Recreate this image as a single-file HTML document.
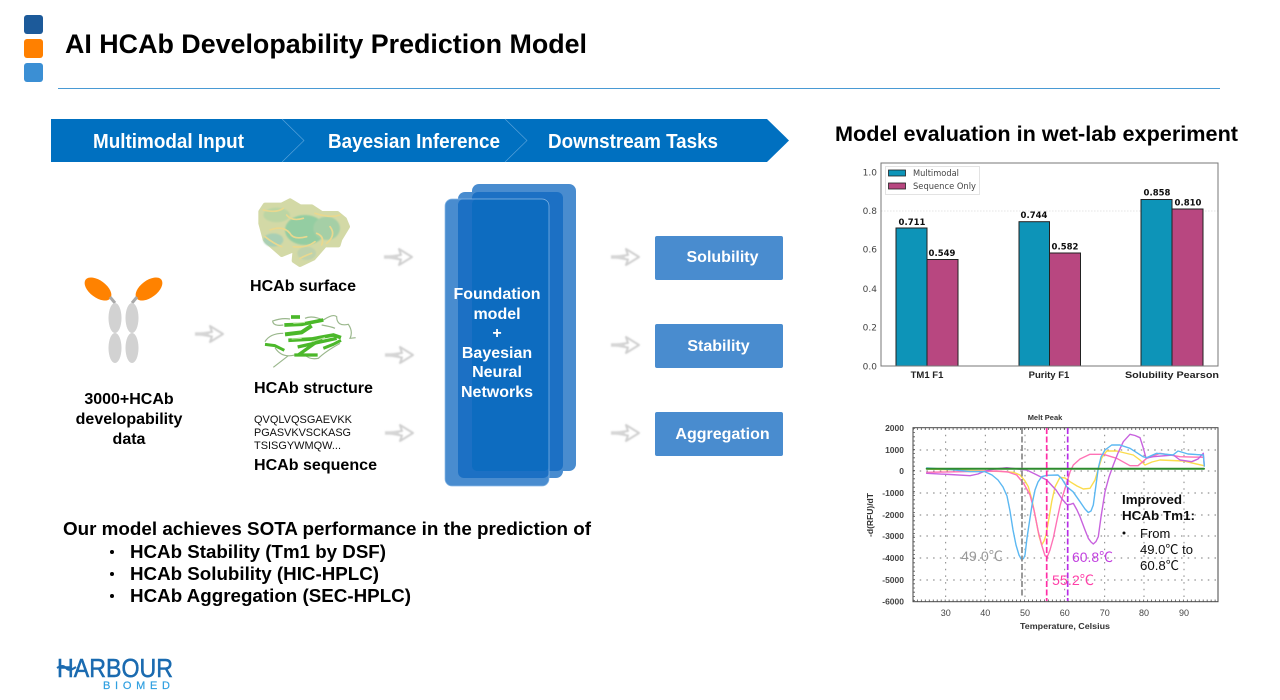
<!DOCTYPE html>
<html>
<head>
<meta charset="utf-8">
<style>
html,body{margin:0;padding:0;background:#fff;width:1280px;height:700px;overflow:hidden}
svg{display:block}
text{font-family:"Liberation Sans","Noto Sans CJK SC",sans-serif}
.b{font-weight:bold;fill:#000}
.d{font-family:"DejaVu Sans",sans-serif}
.t1{font-family:"DejaVu Sans",sans-serif;font-size:9px;fill:#444}
.v{font-family:"DejaVu Sans",sans-serif;font-size:8.5px;font-weight:bold;fill:#111;text-anchor:middle}
.t2{font-size:8.5px;fill:#444;font-weight:bold}
.t3{font-size:9px;fill:#444}
</style>
</head>
<body>
<svg width="1280" height="700" viewBox="0 0 1280 700" xmlns="http://www.w3.org/2000/svg">
<defs>
<filter id="all" filterUnits="userSpaceOnUse" x="0" y="0" width="1280" height="700"><feGaussianBlur stdDeviation="0.32"/></filter>
<filter id="b1" x="-20%" y="-20%" width="140%" height="140%"><feGaussianBlur stdDeviation="0.7"/></filter>
<filter id="b2" x="-20%" y="-20%" width="140%" height="140%"><feGaussianBlur stdDeviation="2"/></filter>
<filter id="b4" x="-20%" y="-20%" width="140%" height="140%"><feGaussianBlur stdDeviation="1"/></filter>
<g id="arr" filter="url(#b1)"><path d="M2 10 L17 8 L15 2 L28 10 L15 18 L17 12.500 Z" fill="#fff" stroke="#cfcfcf" stroke-width="2" stroke-linejoin="round"/><path d="M0 10 H14" stroke="#d5d5d5" stroke-width="3.500"/></g>
</defs>
<rect width="1280" height="700" fill="#fff"/>
<g filter="url(#all)">

<!-- header -->
<rect x="24" y="15" width="19" height="19" rx="3" fill="#1f5a9a"/>
<rect x="24" y="39" width="19" height="19" rx="3" fill="#ff8000"/>
<rect x="24" y="63" width="19" height="19" rx="3" fill="#3b8fd4"/>
<text x="65" y="53" class="b" font-size="26.500" textLength="522" lengthAdjust="spacingAndGlyphs">AI HCAb Developability Prediction Model</text>
<rect x="58" y="88" width="1162" height="1" fill="#4a9ad4"/>

<!-- banner -->
<path d="M51 119 H767 L789 140.500 L767 162 H51 Z" fill="#0070c0"/>
<path d="M282 119 L304 140.500 L282 162 M505 119 L527 140.500 L505 162" fill="none" stroke="#5fa6dc" stroke-width="0.6"/>
<g fill="#fff" font-weight="bold" font-size="20">
<text x="93" y="148" textLength="151" lengthAdjust="spacingAndGlyphs">Multimodal Input</text>
<text x="328" y="148" textLength="172" lengthAdjust="spacingAndGlyphs">Bayesian Inference</text>
<text x="548" y="148" textLength="170" lengthAdjust="spacingAndGlyphs">Downstream Tasks</text>
</g>

<!-- antibody -->
<ellipse cx="98" cy="289" rx="15.500" ry="8.500" transform="rotate(37 98 289)" fill="#ff8205"/>
<ellipse cx="149" cy="289" rx="15.500" ry="8.500" transform="rotate(-37 149 289)" fill="#ff8205"/>
<path d="M110 297 L115 303 M137 297 L132 303" stroke="#a9a9a9" stroke-width="3"/>
<g fill="#d2d2d2">
<ellipse cx="115" cy="318" rx="6.500" ry="15"/><ellipse cx="115" cy="348" rx="6.500" ry="15"/>
<ellipse cx="132" cy="318" rx="6.500" ry="15"/><ellipse cx="132" cy="348" rx="6.500" ry="15"/>
</g>
<g font-size="16" text-anchor="middle">
<text x="129" y="404" class="b">3000+HCAb</text>
<text x="129" y="424" class="b">developability</text>
<text x="129" y="444" class="b">data</text>
</g>

<!-- surface blob -->
<g transform="translate(250,190) scale(0.3333)">
<path filter="url(#b4)" d="M32 65 L45 45 L95 45 L120 32 L150 50 L185 50 L215 70 L262 70 L284 88 L293 110 L270 148 L265 165 L225 165 L190 205 L150 224 L132 212 L135 178 L95 194 L62 165 L45 148 L32 100 Z" fill="#d3d9a6" stroke="#d3d9a6" stroke-width="14" stroke-linejoin="round"/>
<g filter="url(#b2)">
<ellipse cx="165" cy="120" rx="60" ry="45" fill="#94cda2"/>
<ellipse cx="230" cy="115" rx="40" ry="35" fill="#a5cfa6"/>
<ellipse cx="70" cy="150" rx="30" ry="20" fill="#a9cfb4"/>
<ellipse cx="80" cy="75" rx="40" ry="22" fill="#bcd5a4"/>
<ellipse cx="170" cy="190" rx="28" ry="20" fill="#bfd2ac"/>
</g>
<g filter="url(#b4)" fill="none" stroke="#e9d88f" stroke-width="5" stroke-linecap="round">
<path d="M40 60 Q80 70 100 55 M60 120 Q100 105 120 130 Q130 150 170 140 M110 75 Q125 95 160 85 M195 70 Q240 85 270 75 M240 110 Q260 135 230 160 M130 170 Q170 175 195 155 M45 140 Q70 160 95 170 M200 130 Q225 140 215 165 M150 205 Q170 195 185 190"/>
</g>
</g>
<text x="250" y="291" class="b" font-size="16" textLength="106" lengthAdjust="spacingAndGlyphs">HCAb surface</text>

<!-- structure ribbon -->
<g transform="translate(255,305) scale(0.3333)">
<path d="M85 60 Q55 65 53 48 Q80 38 105 42 M85 85 Q45 85 30 110 M60 128 Q80 160 120 150 M55 187 L100 152 M205 45 Q235 25 245 35 Q245 65 280 58 Q295 80 285 100 L302 98 M255 115 Q210 140 190 160 Q165 165 150 150 M200 60 Q230 65 240 70 M150 40 Q170 30 205 45" fill="none" stroke="#9ab78c" stroke-width="3.500"/>
<g fill="none" stroke="#4cb82a" stroke-linejoin="round">
<path d="M108 36 L135 36" stroke-width="11"/>
<path d="M88 60 L140 58 L205 45" stroke-width="11"/>
<path d="M90 88 L140 82 L170 62" stroke-width="12"/>
<path d="M100 106 L170 102 L235 90 L258 98" stroke-width="11"/>
<path d="M128 126 L190 112 L245 100" stroke-width="10"/>
<path d="M118 150 L188 150" stroke-width="10"/>
<path d="M130 150 L165 125 L200 100" stroke-width="10"/>
<path d="M205 130 L235 118 L258 106" stroke-width="9"/>
<path d="M30 118 L60 122 L88 136" stroke-width="9"/>
</g>
<path d="M115 55 L150 52 M110 102 L140 100 M170 110 L210 98" stroke="#b9e6a0" stroke-width="3" fill="none"/>
</g>
<text x="254" y="393" class="b" font-size="16" textLength="119" lengthAdjust="spacingAndGlyphs">HCAb structure</text>

<!-- sequence -->
<g font-size="11" fill="#111">
<text x="254" y="423" textLength="98" lengthAdjust="spacingAndGlyphs">QVQLVQSGAEVKK</text>
<text x="254" y="436" textLength="97" lengthAdjust="spacingAndGlyphs">PGASVKVSCKASG</text>
<text x="254" y="449" textLength="87" lengthAdjust="spacingAndGlyphs">TSISGYWMQW...</text>
</g>
<text x="254" y="470" class="b" font-size="16" textLength="123" lengthAdjust="spacingAndGlyphs">HCAb sequence</text>

<!-- arrows -->
<use href="#arr" x="195" y="324"/>
<use href="#arr" x="384" y="247"/>
<use href="#arr" x="385" y="345"/>
<use href="#arr" x="385" y="423"/>
<use href="#arr" x="611" y="247"/>
<use href="#arr" x="611" y="335"/>
<use href="#arr" x="611" y="423"/>

<!-- stacked foundation cards -->
<g fill="#4a8ccf">
<rect x="472" y="184" width="104" height="287" rx="7"/>
<rect x="458" y="192" width="105" height="286" rx="7"/>
<rect x="445" y="199" width="104" height="287" rx="7"/>
</g>
<g fill="#1c70c4">
<rect x="472" y="192" width="91" height="279" rx="6"/>
<rect x="458" y="199" width="91" height="279" rx="6"/>
</g>
<rect x="472" y="199" width="77" height="272" rx="5" fill="#0c6cc0"/>
<rect x="445" y="199" width="104" height="287" rx="7" fill="none" stroke="#8ab9e6" stroke-width="0.7"/>
<g fill="#fff" font-weight="bold" font-size="16" text-anchor="middle">
<text x="497" y="299">Foundation</text>
<text x="497" y="319">model</text>
<text x="497" y="338">+</text>
<text x="497" y="358">Bayesian</text>
<text x="497" y="377">Neural</text>
<text x="497" y="397">Networks</text>
</g>

<!-- output boxes -->
<g fill="#4a8ccf">
<rect x="655" y="236" width="128" height="44" rx="2"/>
<rect x="655" y="324" width="128" height="44" rx="2"/>
<rect x="655" y="412" width="128" height="44" rx="2"/>
</g>
<g fill="#fff" font-weight="bold" font-size="16" text-anchor="middle">
<text x="722.500" y="262">Solubility</text>
<text x="718.500" y="351">Stability</text>
<text x="722.500" y="439">Aggregation</text>
</g>

<!-- bottom text -->
<text x="63" y="535" class="b" font-size="18.500" textLength="528" lengthAdjust="spacingAndGlyphs">Our model achieves SOTA performance in the prediction of</text>
<g fill="#000"><circle cx="112" cy="552" r="2"/><circle cx="112" cy="574" r="2"/><circle cx="112" cy="596" r="2"/></g>
<text x="130" y="558" class="b" font-size="18.500" textLength="256" lengthAdjust="spacingAndGlyphs">HCAb Stability (Tm1 by DSF)</text>
<text x="130" y="580" class="b" font-size="18.500" textLength="249" lengthAdjust="spacingAndGlyphs">HCAb Solubility (HIC-HPLC)</text>
<text x="130" y="602" class="b" font-size="18.500" textLength="281" lengthAdjust="spacingAndGlyphs">HCAb Aggregation (SEC-HPLC)</text>

<!-- logo -->
<text x="57" y="677" font-size="26" fill="#1a6bb0" stroke="#1a6bb0" stroke-width="0.5" textLength="116" lengthAdjust="spacingAndGlyphs">HARBOUR</text>
<path d="M57 668 Q63 664 66 668 T76 667" fill="none" stroke="#1a6bb0" stroke-width="2"/>
<text x="103" y="689" font-size="11" fill="#2f9fe0" stroke="#2f9fe0" stroke-width="0.2" textLength="67" lengthAdjust="spacing">BIOMED</text>

<!-- right title -->
<text x="835" y="141" class="b" font-size="21.500" textLength="403" lengthAdjust="spacingAndGlyphs">Model evaluation in wet-lab experiment</text>

<!-- bar chart -->
<g>
<line x1="881" y1="211" x2="1218" y2="211" stroke="#ddd" stroke-width="0.7" stroke-dasharray="1.500 1.500"/>
<g stroke="#222" stroke-width="1">
<rect x="896" y="228" width="31" height="138" fill="#0f94b8"/>
<rect x="927" y="259.500" width="31" height="106.500" fill="#b84780"/>
<rect x="1019" y="221.700" width="30.500" height="144.300" fill="#0f94b8"/>
<rect x="1049.500" y="253" width="31" height="113" fill="#b84780"/>
<rect x="1141" y="199.500" width="31" height="166.500" fill="#0f94b8"/>
<rect x="1172" y="209" width="31" height="157" fill="#b84780"/>
</g>
<rect x="881" y="163" width="337" height="203" fill="none" stroke="#777" stroke-width="1"/>
<g text-anchor="end">
<text x="877" y="175.500" class="t1">1.0</text>
<text x="877" y="214" class="t1">0.8</text>
<text x="877" y="252.500" class="t1">0.6</text>
<text x="877" y="292" class="t1">0.4</text>
<text x="877" y="330.500" class="t1">0.2</text>
<text x="877" y="369.500" class="t1">0.0</text>
</g>
<text x="912" y="225" class="v">0.711</text>
<text x="942" y="256" class="v">0.549</text>
<text x="1034" y="218" class="v">0.744</text>
<text x="1065" y="249.500" class="v">0.582</text>
<text x="1157" y="195.500" class="v">0.858</text>
<text x="1188" y="205.500" class="v">0.810</text>
<g class="d" font-size="9.500" font-weight="bold" fill="#222" text-anchor="middle">
<text x="927" y="378">TM1 F1</text>
<text x="1049" y="378">Purity F1</text>
<text x="1172" y="378" textLength="94" lengthAdjust="spacingAndGlyphs">Solubility Pearson</text>
</g>
<rect x="885.500" y="166.500" width="94" height="28" fill="#fff" stroke="#ddd" stroke-width="0.8"/>
<rect x="888.500" y="170" width="17" height="6" fill="#0f94b8" stroke="#222" stroke-width="0.8"/>
<rect x="888.500" y="183" width="17" height="6" fill="#b84780" stroke="#222" stroke-width="0.8"/>
<text x="913" y="176" class="t1" textLength="46" lengthAdjust="spacingAndGlyphs">Multimodal</text>
<text x="913" y="189" class="t1" textLength="63" lengthAdjust="spacingAndGlyphs">Sequence Only</text>
</g>

<!-- melt peak chart -->
<g>
<text x="1045" y="420" text-anchor="middle" font-size="7.500" font-weight="bold" fill="#333">Melt Peak</text>
<g stroke="#777" stroke-width="0.9" stroke-dasharray="1.500 5.200">
<path d="M913 450H1218M913 471H1218M913 493H1218M913 515H1218M913 536H1218M913 558H1218M913 580H1218"/>
<path d="M945.700 428V602M985.300 428V602M1025 428V602M1064.700 428V602M1104.700 428V602M1144 428V602M1184 428V602"/>
</g>
<rect x="913" y="427.700" width="305" height="174" fill="none" stroke="#444" stroke-width="1"/>
<path d="M913 429H1218M913 600.500H1218" stroke="#555" stroke-width="2" stroke-dasharray="0.800 3.170" fill="none"/>
<path d="M914 428V602" stroke="#555" stroke-width="2" stroke-dasharray="0.800 3.400" fill="none"/>
<g text-anchor="end">
<text x="904" y="431" class="t2">2000</text>
<text x="904" y="453" class="t2">1000</text>
<text x="904" y="474" class="t2">0</text>
<text x="904" y="496" class="t2">-1000</text>
<text x="904" y="518" class="t2">-2000</text>
<text x="904" y="539" class="t2">-3000</text>
<text x="904" y="561" class="t2">-4000</text>
<text x="904" y="583" class="t2">-5000</text>
<text x="904" y="604.500" class="t2">-6000</text>
</g>
<g text-anchor="middle">
<text x="945.700" y="616" class="t3">30</text>
<text x="985.300" y="616" class="t3">40</text>
<text x="1025" y="616" class="t3">50</text>
<text x="1064.700" y="616" class="t3">60</text>
<text x="1104.700" y="616" class="t3">70</text>
<text x="1144" y="616" class="t3">80</text>
<text x="1184" y="616" class="t3">90</text>
</g>
<text x="1065" y="629" text-anchor="middle" font-size="8.500" font-weight="bold" fill="#333" textLength="90" lengthAdjust="spacingAndGlyphs">Temperature, Celsius</text>
<text transform="translate(873,515) rotate(-90)" text-anchor="middle" font-size="8.500" font-weight="bold" fill="#333">-d(RFU)/dT</text>

<g fill="none" stroke-linejoin="round" stroke-linecap="round" stroke-width="1.400">
<polyline stroke="#fbdc4e" points="926.700,469 986.700,471 1006.700,471.700 1014,472.500 1020,475 1025,481 1028.300,486.700 1032,500 1035,515 1039,536 1041.700,545 1044,541 1046,535 1049,518 1051.700,501.700 1055,487 1060,477.300 1065,478 1070,481.700 1077,486 1083.300,489 1090,488.300 1095,480 1098,470 1101.700,458 1106.700,451 1116.700,451 1133.300,455 1140,460 1145,465 1152,462 1160,460 1183.300,461 1204,465.700"/>
<polyline stroke="#ff72b6" points="926.700,472.300 996.700,471 1008,472 1016.700,475 1024,484 1030,495 1034,510 1038.300,531.700 1042,546 1045,555.700 1047.300,556.700 1050,550 1053.300,538 1057,520 1060,506 1063,495 1066.700,483 1070,472 1073.300,465 1080,459 1090,454.300 1103.300,454.300 1116.700,458.300 1130,465.700 1138,465.700 1146.700,458.300 1160,453.300 1180,456.700 1203.300,457.300"/>
<polyline stroke="#c862de" points="926.700,473.300 950,474.500 970,475.700 978,474 985,471 995,469 1006.700,467.700 1026.700,470 1037,475 1046.700,480 1056,490 1062,499 1066.700,504.300 1070,504.500 1073.300,503.300 1077,510 1080,516.700 1085,530 1088.300,538.300 1091,542 1093.300,544 1096,541.500 1098.300,536.700 1101,517 1105,491.700 1109,477 1113.300,465 1118,453 1123.300,441.700 1130,434.300 1135,435.500 1140,437.700 1143,447 1146,458 1153.300,456.700 1173.300,455 1180,460 1191.700,461.700 1198,459 1203.300,453.300 1204.300,466"/>
<polyline stroke="#5cb8f2" points="926.700,468 950,469.500 970,471.500 985,471.700 992,475 998,480 1003,487 1007,496 1010,511 1013,530 1016,545 1019,555 1021.500,559.500 1023.500,558.500 1025,555 1027,538 1030,518 1032.500,502 1035,490 1038,482 1041.700,476.700 1047,475.300 1058,475 1062,479 1066.700,486.700 1073,491.700 1080,501.700 1085,509 1088.300,512.500 1091,511 1093.300,505 1096,485 1098.300,468 1101,457 1105,450 1111.700,445 1120,445 1130,448.300 1143,456.700 1146.700,457.700 1156.700,453.300 1173,455 1178,451 1188,454 1203.300,455 1204.300,466"/>
<path stroke="#2e8b2e" stroke-width="2" d="M926.700 468.700 H1204"/>
<g stroke-width="1.700" stroke-dasharray="6 2.500" stroke-linecap="butt">
<path stroke="#888" d="M1022 428 V598"/>
<path stroke="#ff2ea6" d="M1046.700 428 V601"/>
<path stroke="#b82ee6" d="M1067.700 428 V601"/>
</g>
</g>

<text x="961" y="561" font-size="14" fill="#999" textLength="42" lengthAdjust="spacingAndGlyphs">49.0℃</text>
<text x="1072" y="562" font-size="14" fill="#c23fe0" textLength="41" lengthAdjust="spacingAndGlyphs">60.8℃</text>
<text x="1052" y="585" font-size="14" fill="#ff3fa8" textLength="42" lengthAdjust="spacingAndGlyphs">55.2℃</text>

<g fill="#111" font-size="13">
<text x="1122" y="504" font-weight="bold" textLength="60" lengthAdjust="spacingAndGlyphs">Improved</text>
<text x="1122" y="520" font-weight="bold" textLength="73" lengthAdjust="spacingAndGlyphs">HCAb Tm1:</text>
<circle cx="1124" cy="533" r="1.500"/>
<text x="1140" y="538">From</text>
<text x="1140" y="554" textLength="53" lengthAdjust="spacingAndGlyphs">49.0℃ to</text>
<text x="1140" y="570" textLength="39" lengthAdjust="spacingAndGlyphs">60.8℃</text>
</g>
</g>
</g>
</svg>
</body>
</html>
